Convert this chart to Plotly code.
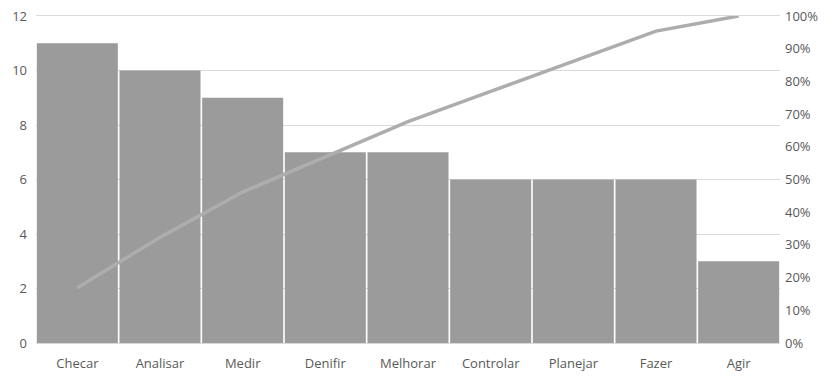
import plotly.graph_objects as go

categories = ["Checar", "Analisar", "Medir", "Denifir", "Melhorar", "Controlar", "Planejar", "Fazer", "Agir"]
counts = [11, 10, 9, 7, 7, 6, 6, 6, 3]
left_ticks = [0, 2, 4, 6, 8, 10, 12]
right_ticks = [0, 0.1, 0.2, 0.3, 0.4, 0.5, 0.6, 0.7, 0.8, 0.9, 1.0]
right_labels = ["0%", "10%", "20%", "30%", "40%", "50%", "60%", "70%", "80%", "90%", "100%"]

total = sum(counts)
cum = []
s = 0
for c in counts:
    s += c
    cum.append(s / total)

font = dict(family="Open Sans", size=13, color="#595959")

fig = go.Figure()
fig.add_trace(go.Bar(x=categories, y=counts, marker=dict(color="#9b9b9b", line=dict(width=0)), yaxis="y"))
fig.add_trace(go.Scatter(x=categories, y=cum, mode="lines", line=dict(color="#adadad", width=3.5), yaxis="y2"))

fig.update_layout(
    width=839, height=379,
    margin=dict(l=36, r=59, t=16, b=36),
    paper_bgcolor="white", plot_bgcolor="white",
    showlegend=False,
    bargap=0.02,
    font=font,
    xaxis=dict(showgrid=False, showline=True, linecolor="#d9d9d9", linewidth=1, mirror=True,
               ticks="", tickfont=font, ticklabelstandoff=8, automargin=False),
    yaxis=dict(range=[0, 12], tickvals=left_ticks, showgrid=True, gridcolor="#d9d9d9",
               zeroline=False, showline=False, ticks="", tickfont=font, ticklabelstandoff=8,
               automargin=False),
    yaxis2=dict(range=[0, 1], tickvals=right_ticks, ticktext=right_labels, overlaying="y", side="right",
                showgrid=False, zeroline=False, showline=False, ticks="", tickfont=font,
                ticklabelstandoff=4, automargin=False),
)

fig.write_html("out.html")
